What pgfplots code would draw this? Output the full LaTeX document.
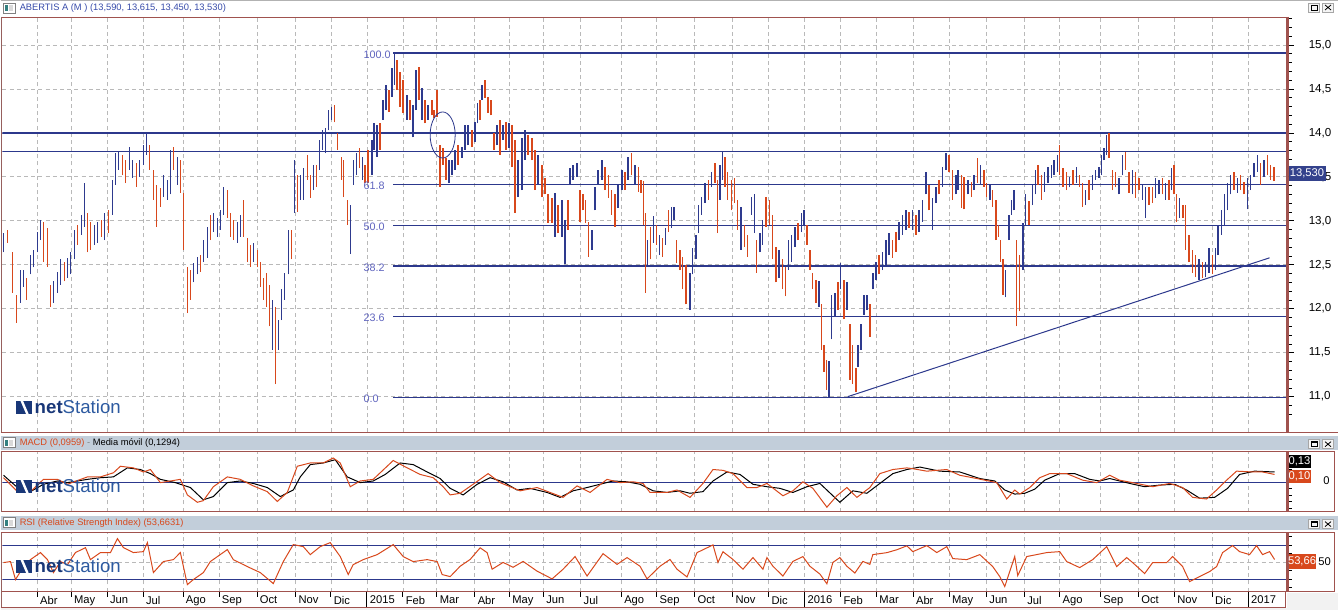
\documentclass[border=0pt]{standalone}
\usepackage{fontspec}
\setmainfont{Liberation Sans}
\usepackage{pgfplots}
\usepackage{pgfplotstable}
\pgfplotsset{compat=1.18}
\definecolor{upc}{RGB}{46,58,142}
\definecolor{dnc}{RGB}{216,72,28}
\definecolor{navy}{RGB}{44,56,140}
\definecolor{navyb}{RGB}{52,66,140}
\definecolor{brd}{RGB}{160,82,78}
\definecolor{gridc}{RGB}{185,185,185}
\definecolor{hdr}{RGB}{194,206,218}
\definecolor{fibc}{RGB}{95,100,190}
\definecolor{ttl}{RGB}{55,75,170}
\definecolor{logoa}{RGB}{25,55,120}
\definecolor{logob}{RGB}{45,90,160}

% bars: x  low  high
\pgfplotstableread{
x lo hi
3 12.64 12.86
20 12.07 12.44
23 12.25 12.44
30 12.39 12.61
33 12.47 12.67
37 12.64 12.87
40 12.78 13.01
53 12.07 12.31
57 12.18 12.42
60 12.27 12.56
67 12.35 12.58
70 12.39 12.64
74 12.56 12.90
81 12.84 13.07
84 12.93 13.43
94 12.73 12.95
97 12.75 12.99
104 12.78 13.09
112 13.07 13.47
115 13.41 13.77
118 13.58 13.78
129 13.58 13.84
132 13.49 13.69
139 13.50 13.69
143 13.64 13.86
146 13.75 14.00
163 13.27 13.52
167 13.24 13.46
170 13.30 13.81
177 13.41 13.73
193 12.30 12.52
197 12.39 12.59
203 12.53 12.78
207 12.58 12.93
213 12.87 13.09
217 12.82 13.03
220 12.90 13.12
223 13.07 13.39
237 12.75 12.99
240 12.82 13.07
253 12.53 12.75
272 11.53 12.10
278 11.53 11.87
281 11.87 12.22
284 12.10 12.41
288 12.39 12.90
294 13.09 13.69
300 13.24 13.52
303 13.24 13.60
313 13.35 13.64
319 13.58 13.92
322 13.81 14.03
325 13.77 14.06
328 14.03 14.26
331 14.15 14.30
350 12.62 13.18
353 13.41 13.69
356 13.52 13.77
362 13.47 13.73
372 13.52 13.92
374 13.81 14.11
377 13.73 14.09
383 14.15 14.38
386 14.26 14.55
392 14.41 14.74
394.5 14.55 14.91
407 14.15 14.43
413 13.95 14.32
416 14.26 14.72
422 14.15 14.51
428 14.15 14.32
449 13.43 13.69
452 13.52 13.69
455 13.58 13.81
462 13.72 13.84
465 13.81 14.09
468 13.86 14.09
475 13.90 14.12
477.5 14.11 14.34
482 14.38 14.55
497 13.86 14.09
503 13.92 14.09
509 13.83 14.11
518 13.27 13.69
522 13.35 13.94
525 13.69 14.03
538 13.41 13.75
555 12.82 13.32
562 12.82 13.24
565 12.51 13.01
570 13.41 13.60
573 13.47 13.64
577 13.50 13.66
592 12.67 12.90
595 13.12 13.39
598 13.41 13.58
602 13.47 13.69
618 13.15 13.41
622 13.35 13.58
628 13.47 13.73
635 13.41 13.64
647.3 12.50 12.78
653.3 12.75 13.05
659.3 12.61 12.84
665.3 12.73 12.92
671.7 12.92 13.16
674 13.01 13.16
690 11.99 12.41
692.7 12.39 12.69
696 12.56 12.84
698.3 12.86 13.18
701.7 13.07 13.27
705 13.20 13.43
711.7 13.39 13.56
720 13.24 13.64
722.3 13.47 13.78
741 12.67 13.16
751.7 13.07 13.27
754.3 12.86 13.30
760 12.64 12.86
762.7 12.73 13.01
779.3 12.35 12.67
788.7 12.44 12.78
791.7 12.53 12.84
795 12.70 12.93
801.7 12.87 13.09
804.3 12.95 13.12
819 12.02 12.31
829 10.99 11.40
831.7 11.65 12.16
835 11.91 12.18
840.7 12.22 12.52
847.3 11.99 12.30
858.3 11.34 11.59
861 11.53 11.82
864 11.93 12.16
867.3 11.99 12.16
873.3 12.22 12.41
876 12.33 12.53
882.7 12.44 12.64
886 12.50 12.78
889.3 12.61 12.86
899.3 12.78 12.99
902.7 12.84 13.07
906 12.90 13.12
912.7 12.90 13.12
919.3 12.87 13.12
922.7 12.99 13.24
926 13.30 13.56
932.7 12.90 13.26
936 13.20 13.39
942.7 13.39 13.61
946 13.58 13.77
956 13.30 13.52
958.3 13.35 13.58
968.3 13.30 13.47
974.3 13.35 13.52
980.7 13.41 13.64
990 13.24 13.41
1005.7 12.13 12.44
1009.3 12.78 13.07
1011.7 13.07 13.24
1014.3 13.12 13.35
1023.3 12.44 12.98
1026 12.95 13.30
1032.7 13.18 13.41
1036 13.30 13.58
1045 13.33 13.56
1048.3 13.43 13.61
1051.7 13.49 13.64
1054.3 13.52 13.69
1057.7 13.56 13.75
1070 13.38 13.50
1076.7 13.43 13.61
1086 13.18 13.35
1092.7 13.35 13.52
1096 13.47 13.58
1099.3 13.49 13.61
1101.7 13.52 13.75
1104.3 13.69 13.83
1107 13.75 13.98
1119.3 13.30 13.49
1122.7 13.52 13.75
1132.7 13.30 13.58
1142.7 13.24 13.41
1146 13.03 13.39
1156 13.26 13.49
1159.3 13.30 13.47
1166 13.24 13.43
1172 13.35 13.60
1180 13.03 13.26
1199.3 12.33 12.56
1206 12.36 12.53
1209.3 12.41 12.69
1216 12.44 12.69
1218.3 12.61 12.95
1221.7 12.84 13.12
1225 12.95 13.30
1227.7 13.12 13.43
1231 13.30 13.52
1237.7 13.32 13.49
1247.7 13.13 13.49
1251 13.35 13.52
1254.3 13.50 13.66
1257.7 13.56 13.75
1264.3 13.50 13.69
}\upbars

\pgfplotstableread{
x lo hi
7 12.75 12.90
12 12.18 12.64
16 11.84 12.16
26 12.10 12.35
43 12.53 12.99
47 12.48 12.92
50 12.02 12.27
64 12.31 12.53
77 12.73 12.95
87 12.64 13.09
90 12.67 12.99
101 12.82 13.01
108 12.86 13.12
122 13.52 13.75
125 13.43 13.69
136 13.39 13.66
149 13.58 13.86
153 13.24 13.58
156 12.93 13.41
160 13.16 13.37
173 13.58 13.84
180 13.32 13.69
183 12.67 13.32
187 11.95 12.48
190 12.10 12.44
200 12.42 12.61
210 12.78 13.07
227 13.03 13.35
230 12.82 13.09
233 12.78 13.01
243 12.82 13.24
247 12.53 12.81
250 12.48 12.73
257 12.47 12.67
260 12.25 12.53
263 12.10 12.35
266 12.02 12.41
269 11.80 12.27
275 11.14 12.02
291 12.56 12.90
297 13.10 13.52
307 13.47 13.75
310 13.26 13.52
316 13.39 13.64
334 14.12 14.32
337 13.81 14.00
341 13.47 13.73
343 13.27 13.69
347 12.95 13.24
359 13.60 13.83
365 13.43 13.64
368 13.43 13.81
380 13.81 14.11
389 14.24 14.49
397 14.49 14.83
400 14.30 14.69
403 14.23 14.60
410 14.15 14.38
419 14.38 14.75
425 14.11 14.38
432 14.20 14.38
434 14.17 14.26
437 14.18 14.49
440 13.39 13.86
443 13.64 13.83
446 13.47 13.71
458 13.64 13.86
472 13.84 14.03
480 14.15 14.38
485 14.40 14.60
488 14.23 14.41
491 14.20 14.38
494 13.81 14.00
500 13.75 14.15
506 13.81 14.12
512 13.61 14.09
515 13.09 13.92
528 13.75 13.98
532 13.69 13.94
535 13.35 13.81
542 13.27 13.64
545 13.30 13.49
548 12.98 13.30
552 12.98 13.26
558 12.86 13.18
568 12.90 13.24
580 12.99 13.35
582.7 13.12 13.30
585.3 12.98 13.24
588.3 12.59 12.99
605 13.35 13.61
608.3 13.26 13.52
611.7 13.07 13.35
615 12.93 13.30
625 13.35 13.56
631.7 13.52 13.77
638.3 13.33 13.61
641 13.32 13.47
643.5 12.95 13.45
645.5 12.18 13.09
650.7 12.56 12.93
656.7 12.73 12.95
662.7 12.59 12.81
668.3 12.87 13.12
676.7 12.52 12.78
680 12.44 12.67
682.7 12.22 12.59
686 12.05 12.50
708.3 13.24 13.47
715 13.43 13.66
717.3 12.86 13.47
725 13.39 13.73
727.7 13.24 13.56
731.7 13.12 13.47
734.3 13.20 13.49
737.7 12.90 13.24
744.3 12.70 12.95
747.7 12.59 12.84
756.7 12.41 12.78
766 12.93 13.27
769.3 12.95 13.24
772.7 12.56 13.07
776 12.30 12.70
782.7 12.22 12.56
785.7 12.14 12.47
798.3 12.78 12.98
807.3 12.73 12.95
810 12.44 12.67
812.7 12.22 12.41
816 12.07 12.33
821.7 11.53 12.05
824.3 11.28 11.59
826.7 11.08 11.42
838.3 11.99 12.30
844 11.88 12.33
850 11.19 11.82
852.7 11.14 11.59
856 11.05 11.33
870 11.68 12.05
879.3 12.39 12.61
892.7 12.58 12.78
896 12.65 12.87
909.3 12.92 13.10
916 12.84 13.07
929.3 13.12 13.41
939.3 13.30 13.47
949.3 13.55 13.75
952.7 13.24 13.58
961.7 13.15 13.52
964 13.13 13.50
971.7 13.27 13.44
977.7 13.43 13.71
984 13.39 13.58
986.7 13.27 13.43
992.7 13.16 13.35
996 12.78 13.24
999 12.82 12.95
1001 12.53 12.78
1003.3 12.16 12.56
1016.7 11.80 12.78
1020 11.97 12.61
1029.3 12.95 13.22
1038.3 13.41 13.64
1041.7 13.24 13.52
1060 13.52 13.86
1063.3 13.39 13.60
1066.7 13.35 13.56
1073.3 13.41 13.58
1080 13.39 13.52
1082.7 13.16 13.43
1089.3 13.24 13.47
1109.3 13.72 14.00
1112.7 13.35 13.58
1116 13.38 13.56
1126 13.58 13.78
1129.3 13.32 13.56
1136 13.26 13.56
1139.3 13.35 13.49
1149.3 13.18 13.39
1152.7 13.20 13.38
1162.7 13.30 13.49
1169.3 13.24 13.47
1174.3 13.30 13.64
1176.7 12.99 13.30
1183.3 13.03 13.18
1186 12.67 13.18
1189.3 12.53 12.84
1192.7 12.41 12.67
1196 12.36 12.61
1202.7 12.35 12.53
1212.7 12.39 12.61
1234.3 13.35 13.56
1241 13.35 13.52
1244.3 13.30 13.44
1261 13.41 13.66
1267.7 13.52 13.75
1271 13.47 13.64
1274.3 13.45 13.615
}\dnbars

\pgfplotsset{
 panel/.style={set layers, scale only axis, width=963.75pt, xmin=2, xmax=1287,
  axis line style={draw=none},
  xtick={36.7,70.7,106.7,142.7,182.7,218.7,256.7,295.3,330.7,366.7,402.7,436.7,474.7,509.3,543.3,580.7,621.3,656.7,694.7,732.7,768.7,804.7,840.7,876.7,913.3,949.3,986.7,1024.7,1060,1100.7,1138.7,1174.7,1212.7,1248.7},
  xticklabels={}, xmajorgrids,
  major grid style={draw=gridc, line width=0.6pt, dash pattern=on 3pt off 2.4pt},
  major tick length=0pt, minor tick length=0pt, clip=true},
 bars/.style={draw=none, mark=none, forget plot,
  error bars/.cd, y dir=plus, y explicit, error mark=none,
  error bar style={draw=#1, line width=1.1pt}}
}

\begin{document}
\begin{tikzpicture}
\begin{scope}[x=0.75pt,y=-0.75pt]
\path[use as bounding box] (0,0) rectangle (1338,610);
\fill[hdr] (0,436) rectangle (1338,450);
\fill[hdr] (0,516) rectangle (1338,530);
\fill[gray!10] (1287,593) rectangle (1338,610);
\fill[gray!10] (0,608.5) rectangle (1338,610);
\draw[gray!60, line width=0.75pt] (0,0.5) -- (1338,0.5);
\end{scope}

% ---------- main price panel ----------
\begin{axis}[panel, at={(1.5pt,-324pt)}, anchor=south west, height=311.25pt,
  ymin=10.60, ymax=15.32,
  ytick={11,11.5,12,12.5,13,13.5,14,14.5,15},
  yticklabels={{11,0},{11,5},{12,0},{12,5},{13,0},{13,5},{14,0},{14,5},{15,0}},
  ymajorgrids, yticklabel pos=right,
  yticklabel style={anchor=west, inner sep=0pt, xshift=16.5pt, font=\fontsize{8.7}{9}\selectfont}]
 \addplot[navy, line width=0.9pt] coordinates {(2,14.0)(1287,14.0)};
 \addplot[navy, line width=0.9pt] coordinates {(2,13.79)(1287,13.79)};
 \addplot[navy, line width=0.9pt] coordinates {(393,14.909)(1287,14.909)};
 \addplot[navy, line width=0.9pt] coordinates {(393,13.411)(1287,13.411)};
 \addplot[navy, line width=0.9pt] coordinates {(393,12.949)(1287,12.949)};
 \addplot[navy, line width=0.9pt] coordinates {(393,12.486)(1287,12.486)};
 \addplot[navy, line width=0.9pt] coordinates {(393,11.913)(1287,11.913)};
 \addplot[navy, line width=0.9pt] coordinates {(393,10.988)(1287,10.988)};
 \addplot[navy, line width=0.75pt] coordinates {(848,10.999)(1270,12.579)};
 \addplot[bars=upc] table[x=x, y=lo, y error expr=\thisrow{hi}-\thisrow{lo}] {\upbars};
 \addplot[bars=dnc] table[x=x, y=lo, y error expr=\thisrow{hi}-\thisrow{lo}] {\dnbars};
 \draw[navy, line width=0.6pt] (axis cs:442.5,13.977) ellipse [x radius=9.4pt, y radius=17.3pt];
 \begin{scope}[every node/.style={anchor=west, inner sep=0pt, text=fibc, font=\fontsize{8.1}{9}\selectfont}]
 \node at (axis cs:363,14.89) {100.0};
 \node at (axis cs:363,13.40) {61.8};
 \node at (axis cs:363,12.93) {50.0};
 \node at (axis cs:363,12.47) {38.2};
 \node at (axis cs:363,11.90) {23.6};
 \node at (axis cs:363,10.97) {0.0};
 \end{scope}
\end{axis}

% ---------- MACD panel ----------
\begin{axis}[panel, at={(1.5pt,-384pt)}, anchor=south west, height=45pt,
  ymin=-0.354, ymax=0.378, ytick=\empty]
 \addplot[navy, line width=0.9pt] coordinates {(2,0)(1287,0)};
 \addplot[black, line width=0.75pt] coordinates {(3,0.09)(17,-0.06)(30,-0.11)(43,-0.02)(57,0.02)(67,0)(87,0.04)(100,0.06)(113,0.07)(127,0.18)(140,0.16)(150,0.11)(160,0.04)(175,0)(190,-0.06)(203,-0.21)(213,-0.17)(227,0)(240,0.02)(253,-0.01)(267,-0.06)(280,-0.17)(293,-0.09)(300,0.07)(310,0.22)(323,0.24)(335,0.28)(347,0.07)(360,0)(373,0.02)(385,0.10)(400,0.24)(413,0.22)(427,0.13)(440,0.05)(450,-0.07)(463,-0.15)(477,-0.02)(490,0.06)(503,0.01)(517,-0.09)(530,-0.07)(547,-0.12)(560,-0.18)(573,-0.10)(587,-0.06)(600,-0.02)(613,0.02)(627,0.01)(640,-0.02)(653,-0.10)(667,-0.12)(680,-0.10)(690,-0.13)(703,-0.11)(713,0.02)(727,0.13)(740,0.10)(753,-0.02)(767,-0.05)(780,-0.07)(793,-0.12)(807,-0.05)(820,-0.01)(833,-0.16)(840,-0.24)(853,-0.10)(867,-0.13)(880,-0.01)(893,0.11)(907,0.16)(920,0.19)(940,0.14)(960,0.13)(980,0.05)(995,0.02)(1005,-0.09)(1015,-0.14)(1025,-0.13)(1035,-0.08)(1045,0.03)(1060,0.11)(1075,0.11)(1090,0.04)(1100,0.02)(1110,0.05)(1120,0.02)(1130,-0.01)(1145,-0.05)(1160,-0.03)(1175,-0.02)(1187,-0.09)(1200,-0.19)(1215,-0.18)(1228,-0.07)(1240,0.10)(1255,0.14)(1275,0.13)};
 \addplot[dnc, line width=0.75pt] coordinates {(3,0.06)(17,-0.11)(30,-0.11)(43,0.04)(57,0.04)(67,-0.02)(87,0.07)(100,0.07)(113,0.12)(120,0.20)(133,0.18)(143,0.13)(150,0.16)(160,0)(180,0.04)(187,-0.15)(197,-0.24)(203,-0.22)(213,-0.05)(227,0.07)(240,0.04)(253,-0.04)(267,-0.11)(277,-0.23)(287,-0.12)(297,0.20)(310,0.24)(323,0.24)(333,0.30)(340,0.24)(350,-0.05)(360,0.02)(373,0.04)(393,0.27)(407,0.18)(420,0.10)(433,0.06)(443,-0.05)(450,-0.15)(460,-0.13)(473,-0.02)(488,0.11)(500,0)(520,-0.10)(537,-0.06)(550,-0.12)(563,-0.18)(577,-0.04)(590,-0.12)(607,0.04)(620,0)(633,0.01)(643,-0.01)(650,-0.12)(667,-0.12)(677,-0.09)(690,-0.18)(703,-0.01)(713,0.16)(723,0.15)(733,0.11)(747,-0.06)(757,-0.06)(767,-0.01)(783,-0.16)(793,-0.10)(803,0.01)(813,-0.07)(827,-0.30)(837,-0.16)(847,-0.06)(857,-0.18)(870,-0.06)(880,0.11)(893,0.16)(907,0.18)(913,0.17)(927,0.14)(947,0.16)(960,0.09)(977,0.05)(997,0)(1007,-0.20)(1015,-0.09)(1020,-0.14)(1030,-0.06)(1040,0.06)(1050,0.11)(1067,0.11)(1083,0.03)(1097,0)(1110,0.09)(1120,0.03)(1137,-0.01)(1153,-0.05)(1170,-0.01)(1183,-0.06)(1193,-0.18)(1207,-0.20)(1217,-0.09)(1227,0.03)(1237,0.14)(1253,0.13)(1263,0.13)(1275,0.10)};
\end{axis}

% ---------- RSI panel ----------
\begin{axis}[panel, at={(1.5pt,-444pt)}, anchor=south west, height=44.25pt,
  ymin=15.9, ymax=85.3, ytick=\empty,
  xticklabels={Abr,May,Jun,Jul,Ago,Sep,Oct,Nov,Dic,2015,Feb,Mar,Abr,May,Jun,Jul,Ago,Sep,Oct,Nov,Dic,2016,Feb,Mar,Abr,May,Jun,Jul,Ago,Sep,Oct,Nov,Dic,2017},
  xticklabel style={anchor=north west, inner sep=0pt, xshift=2pt, yshift=-3.2pt, font=\fontsize{8.4}{9}\selectfont}]
 \addplot[gridc, line width=0.6pt, dash pattern=on 3pt off 2.4pt] coordinates {(2,50)(1287,50)};
 \addplot[navy, line width=0.9pt] coordinates {(2,70)(1287,70)};
 \addplot[navy, line width=0.9pt] coordinates {(2,30)(1287,30)};
 \addplot[dnc, line width=0.75pt] coordinates {(3,50)(10,51.2)(15,30)(23,45.3)(30,53.5)(40,61.8)(47,53.5)(53,38.2)(60,51.2)(67,47.6)(75,61.8)(85,67.6)(90,53.5)(100,61.8)(110,61.8)(117,78.2)(123,67.6)(133,61.8)(143,62.9)(147,73.5)(153,38.2)(163,51.2)(173,53.5)(180,61.8)(187,24.1)(193,30)(203,38.2)(210,51.2)(227,65.3)(233,53.5)(247,45.3)(260,38.2)(273,25.3)(283,51.2)(293,71.2)(303,68.8)(310,59.4)(320,68.8)(330,73.5)(340,57.1)(348,35.9)(353,47.6)(363,53.5)(377,59.4)(393,71.2)(403,57.1)(413,51.2)(427,53.5)(437,51.2)(442,35.9)(450,33.5)(460,45.7)(470,53.7)(480,67.4)(487,61.7)(492,42.2)(503,50.2)(513,44.5)(523,51.4)(537,39.9)(552,30.8)(563,42.2)(575,57.1)(587,34.2)(603,60.5)(617,47.9)(627,55.9)(640,45.7)(647,30.8)(660,45.7)(670,53.7)(677,42.2)(687,33.1)(697,61.7)(713,70.8)(718,50.2)(723,62.8)(733,53.7)(743,42.2)(753,55.9)(763,42.2)(767,55.9)(773,45.7)(783,34.2)(793,51.4)(803,57.1)(810,45.7)(820,36.5)(827,25.1)(833,50.2)(840,55.9)(847,45.7)(855,37.7)(863,51.4)(870,47.9)(873,59.4)(887,61.7)(897,65.1)(907,69.7)(913,62.9)(927,70)(937,61.8)(947,68.8)(953,54.7)(967,53.5)(980,59.4)(993,45.3)(1000,33.5)(1005,21.8)(1015,57.1)(1018,34.7)(1027,57.1)(1047,61.8)(1060,62.9)(1067,51.2)(1080,44.1)(1093,53.5)(1107,68.8)(1117,45.3)(1127,55.9)(1133,50)(1145,37.1)(1153,50)(1167,50)(1173,57.1)(1183,45.3)(1190,27.6)(1200,33.5)(1210,39.4)(1217,45.3)(1223,61.8)(1233,70)(1240,62.9)(1250,59.4)(1257,70)(1263,59.4)(1270,62.9)(1275,53.66)};
\end{axis}

% ---------- frame, ticks, texts ----------
\begin{scope}[x=0.75pt,y=-0.75pt]
\draw[brd, line width=0.75pt] (2,17.5) -- (1287,17.5);
\draw[brd, line width=0.75pt] (0,432.5) -- (1338,432.5);
\draw[brd, line width=0.75pt] (0,451.5) -- (1335,451.5) -- (1335,512) -- (0,512);
\draw[brd, line width=0.75pt] (0,533) -- (1335,533) -- (1335,591.5) -- (0,591.5);
\draw[brd, line width=0.75pt] (0,607.5) -- (1286,607.5) -- (1286,592);
\draw[brd!70!gray, line width=1.5pt] (1,17) -- (1,432);
\draw[brd!70!gray, line width=1.5pt] (1,451) -- (1,512);
\draw[brd!70!gray, line width=1.5pt] (1,533) -- (1,607);
\foreach \a/\b in {17/432, 451/512, 533/592}{\draw[brd, line width=2.2pt] (1287.5,\a) -- (1287.5,\b);}
\foreach \i in {-3,...,42}{\draw[black, line width=0.6pt] (1289,45+8.8*\i) -- ++(3,0);}
\foreach \i in {0,...,8}{\draw[black, line width=0.6pt] (1289,45+44*\i) -- ++(5,0);}
\foreach \i in {-4,...,4}{\draw[black, line width=0.6pt] (1289,482.5+6.5*\i) -- ++(3,0);}
\foreach \i in {-3,...,3}{\draw[black, line width=0.6pt] (1289,562.5+8.5*\i) -- ++(3,0);}
\foreach \t in {36.7,70.7,106.7,142.7,182.7,218.7,256.7,295.3,330.7,402.7,436.7,474.7,509.3,543.3,580.7,621.3,656.7,694.7,732.7,768.7,840.7,876.7,913.3,949.3,986.7,1024.7,1060,1100.7,1138.7,1174.7,1212.7}{\draw[black, line width=0.75pt] (\t,592) -- (\t,597);}
\foreach \t in {366.7,804.7,1248.7}{\draw[black, line width=0.75pt] (\t,592) -- (\t,607);}
\draw[gray, fill=white] (3,3) rectangle (15,13);
\fill[teal!60!gray] (5,5) rectangle (8,11);
\fill[gray!30] (9,5) rectangle (13,11);
\node[anchor=west, inner sep=0pt, text=ttl, font=\fontsize{7}{8}\selectfont] at (19,8) {ABERTIS A (M ) (13,590, 13,615, 13,450, 13,530)};
\foreach \h in {438,518}{
 \draw[gray, fill=white] (3,\h) rectangle (15,\h+10);
 \fill[teal!60!gray] (5,\h+2) rectangle (8,\h+8);
 \fill[gray!30] (9,\h+2) rectangle (13,\h+8);}
\node[anchor=west, inner sep=0pt, font=\fontsize{7}{8}\selectfont] at (19,443.5) {\textcolor{dnc}{MACD (0,0959)} \textcolor{gray}{-} Media móvil (0,1294)};
\node[anchor=west, inner sep=0pt, font=\fontsize{7}{8}\selectfont, text=dnc] at (19,523.5) {RSI (Relative Strength Index) (53,6631)};
\foreach \b in {3,440,520}{
 \draw[gray!70, fill=gray!8] (1309,\b) rectangle (1320,\b+9);
 \draw[black, line width=0.5pt] (1311.5,\b+2) rectangle (1317.5,\b+7);
 \draw[black, line width=1pt] (1311.5,\b+2.5) -- (1317.5,\b+2.5);
 \draw[gray!70, fill=gray!8] (1323,\b) rectangle (1334,\b+9);
 \draw[black, line width=0.6pt] (1325.5,\b+2) -- (1331.5,\b+7) (1325.5,\b+7) -- (1331.5,\b+2);}
\fill[navyb] (1289,166) rectangle (1326,181);
\node[text=white, inner sep=0pt, font=\fontsize{8.4}{9}\selectfont] at (1307.5,173.5) {13,530};
\fill[black] (1289,455) rectangle (1311,468);
\node[text=white, inner sep=0pt, font=\fontsize{8.4}{9}\selectfont] at (1300,461.5) {0,13};
\fill[dnc] (1289,470) rectangle (1311,483);
\node[text=white, inner sep=0pt, font=\fontsize{8.4}{9}\selectfont] at (1300,476.5) {0,10};
\node[inner sep=0pt, font=\fontsize{8.4}{9}\selectfont] at (1327,481.5) {0};
\fill[dnc] (1289,554) rectangle (1316,569);
\node[text=white, inner sep=0pt, font=\fontsize{8.4}{9}\selectfont] at (1302.5,561.5) {53,66};
\node[inner sep=0pt, font=\fontsize{8.4}{9}\selectfont] at (1325,562.5) {50};
\foreach \t in {401,480,560}{
 \fill[logoa] (16,\t) -- (32,\t) -- (32,\t+13) -- (16,\t+13) -- cycle;
 \draw[white, line width=1.8pt] (21,\t-0.5) -- (27,\t+13.5);
 \node[anchor=base west, inner sep=0pt, font=\fontsize{14}{14}\selectfont] at (34,\t+13) {\textcolor{logoa}{\textbf{net}}\textcolor{logob}{Station}};}
\end{scope}
\end{tikzpicture}
\end{document}
